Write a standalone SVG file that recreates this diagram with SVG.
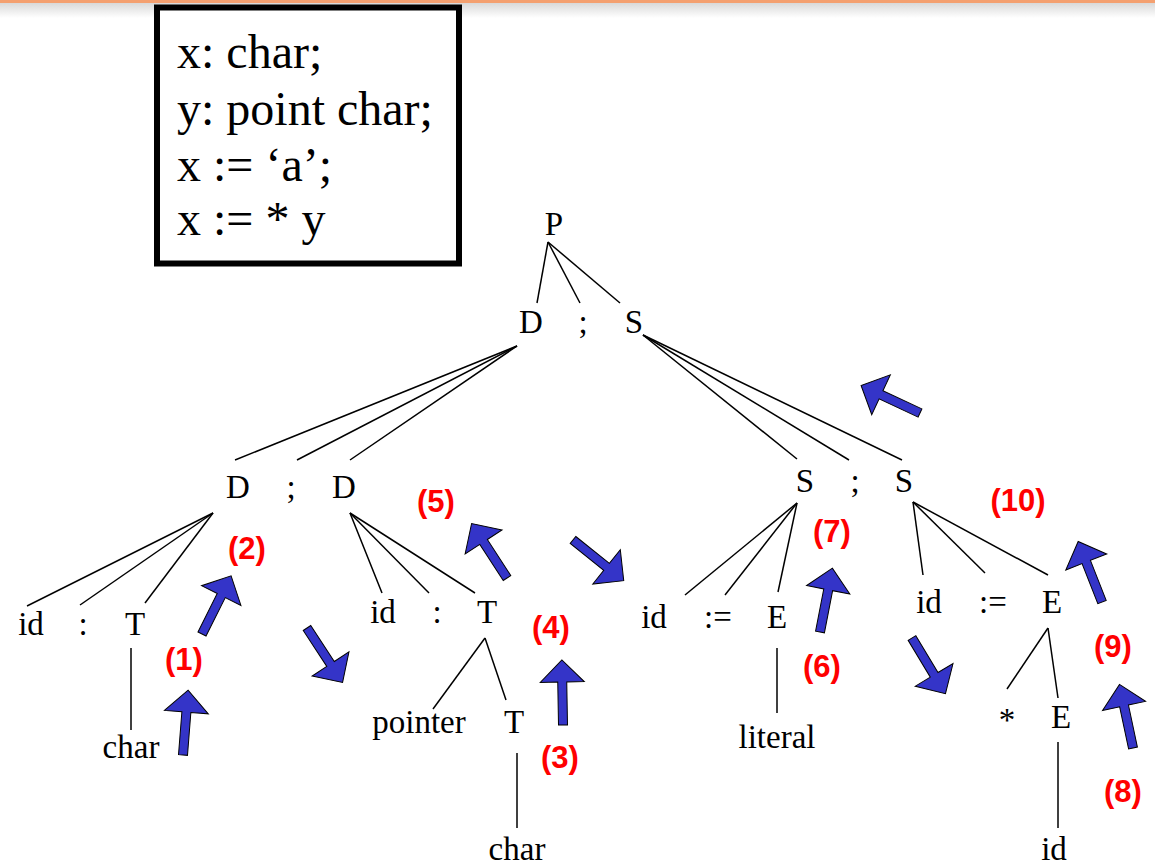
<svg xmlns="http://www.w3.org/2000/svg" xmlns:xlink="http://www.w3.org/1999/xlink" width="1155" height="867" viewBox="0 0 1155 867">
<style>
.t{font-family:"Liberation Serif","Times New Roman",serif;font-size:33px;fill:#000;text-anchor:middle}
.code{font-family:"Liberation Serif","Times New Roman",serif;font-size:48px;fill:#000}
.lbl{font-family:"Liberation Sans",Arial,sans-serif;font-size:31px;font-weight:bold;fill:#f00;text-anchor:middle}
.e{stroke:#000;stroke-width:1.5;fill:none}
.arr{fill:#3434c8;stroke:#000;stroke-width:1}
</style>
<defs>
<linearGradient id="shade" x1="0" y1="0" x2="0" y2="1">
<stop offset="0" stop-color="#d9d9d9"/>
<stop offset="1" stop-color="#ffffff"/>
</linearGradient>
<polygon id="arrow" class="arr" points="0,-4.5 43,-4.5 43,-22 65,0 43,22 43,4.5 0,4.5"/>
</defs>
<rect x="0" y="0" width="1155" height="867" fill="#fff"/>
<rect x="0" y="3" width="1155" height="15" fill="url(#shade)"/>
<rect x="0" y="0" width="1155" height="3" fill="#f4a070"/>

<g id="code-box">
<rect x="157" y="7.5" width="302" height="256" fill="#fff" stroke="#000" stroke-width="6"/>
<text class="code" x="177" y="68">x: char;</text>
<text class="code" x="177" y="125">y: point char;</text>
<text class="code" x="177" y="181">x := ‘a’;</text>
<text class="code" x="177" y="235">x := * y</text>
</g>

<g id="connectors">
<line class="e" x1="548" y1="242" x2="537" y2="303"/>
<line class="e" x1="548" y1="242" x2="580" y2="303"/>
<line class="e" x1="548" y1="242" x2="620" y2="303"/>
<line class="e" x1="517" y1="346" x2="235" y2="460"/>
<line class="e" x1="517" y1="346" x2="297" y2="460"/>
<line class="e" x1="517" y1="346" x2="350" y2="460"/>
<line class="e" x1="643" y1="335" x2="797" y2="459"/>
<line class="e" x1="643" y1="335" x2="849" y2="460"/>
<line class="e" x1="643" y1="335" x2="902" y2="460"/>
<line class="e" x1="213" y1="513" x2="27" y2="606"/>
<line class="e" x1="213" y1="513" x2="80" y2="605"/>
<line class="e" x1="213" y1="513" x2="145" y2="603"/>
<line class="e" x1="131" y1="648" x2="131" y2="730"/>
<line class="e" x1="350" y1="513" x2="382" y2="593"/>
<line class="e" x1="350" y1="513" x2="429" y2="593"/>
<line class="e" x1="350" y1="513" x2="475" y2="593"/>
<line class="e" x1="485" y1="638" x2="433" y2="709"/>
<line class="e" x1="485" y1="638" x2="506" y2="700"/>
<line class="e" x1="517" y1="753" x2="517" y2="828"/>
<line class="e" x1="797" y1="503" x2="685" y2="595"/>
<line class="e" x1="797" y1="503" x2="725" y2="595"/>
<line class="e" x1="797" y1="503" x2="778" y2="592"/>
<line class="e" x1="777" y1="648" x2="777" y2="713"/>
<line class="e" x1="913" y1="502" x2="923" y2="575"/>
<line class="e" x1="913" y1="502" x2="985" y2="573"/>
<line class="e" x1="913" y1="502" x2="1048" y2="575"/>
<line class="e" x1="1048" y1="628" x2="1007" y2="689"/>
<line class="e" x1="1048" y1="628" x2="1058" y2="698"/>
<line class="e" x1="1058" y1="742" x2="1058" y2="828"/>
</g>

<g id="n-P"><text class="t" x="554" y="235">P</text></g>
<g id="n-D1"><text class="t" x="531" y="333">D</text></g>
<g id="n-semi1"><text class="t" x="583" y="333">;</text></g>
<g id="n-S1"><text class="t" x="634" y="333">S</text></g>

<g id="n-D2"><text class="t" x="238" y="498">D</text></g>
<g id="n-semi2"><text class="t" x="291" y="498">;</text></g>
<g id="n-D3"><text class="t" x="344" y="498">D</text></g>
<g id="n-S2"><text class="t" x="805" y="492">S</text></g>
<g id="n-semi3"><text class="t" x="855" y="492">;</text></g>
<g id="n-S3"><text class="t" x="904" y="492">S</text></g>

<g id="n-id1"><text class="t" x="31" y="635">id</text></g>
<g id="n-colon1"><text class="t" x="83" y="635">:</text></g>
<g id="n-T1"><text class="t" x="135" y="635">T</text></g>
<g id="n-char1"><text class="t" x="131" y="758">char</text></g>

<g id="n-id2"><text class="t" x="383" y="623">id</text></g>
<g id="n-colon2"><text class="t" x="437" y="623">:</text></g>
<g id="n-T2"><text class="t" x="487" y="623">T</text></g>
<g id="n-pointer"><text class="t" x="419" y="733">pointer</text></g>
<g id="n-T3"><text class="t" x="514" y="733">T</text></g>
<g id="n-char2"><text class="t" x="517" y="860">char</text></g>

<g id="n-id3"><text class="t" x="654" y="628">id</text></g>
<g id="n-assign1"><text class="t" x="718" y="628">:=</text></g>
<g id="n-E1"><text class="t" x="777" y="628">E</text></g>
<g id="n-literal"><text class="t" x="777" y="748">literal</text></g>

<g id="n-id4"><text class="t" x="929" y="613">id</text></g>
<g id="n-assign2"><text class="t" x="993" y="613">:=</text></g>
<g id="n-E2"><text class="t" x="1052" y="613">E</text></g>
<g id="n-star"><text class="t" x="1007" y="731">*</text></g>
<g id="n-E3"><text class="t" x="1061" y="728">E</text></g>
<g id="n-id5"><text class="t" x="1054" y="860">id</text></g>

<g id="step-arrows">
<use xlink:href="#arrow" transform="translate(183,755) rotate(-85.5)"/>
<use xlink:href="#arrow" transform="translate(202,634) rotate(-63.4)"/>
<use xlink:href="#arrow" transform="translate(307,628) rotate(56.8)"/>
<use xlink:href="#arrow" transform="translate(563,725) rotate(-91)"/>
<use xlink:href="#arrow" transform="translate(507,578) rotate(-123)"/>
<use xlink:href="#arrow" transform="translate(573,540) rotate(38.7)"/>
<use xlink:href="#arrow" transform="translate(820,632) rotate(-79)"/>
<use xlink:href="#arrow" transform="translate(912,638) rotate(59)"/>
<use xlink:href="#arrow" transform="translate(1102,602) rotate(-111.5)"/>
<use xlink:href="#arrow" transform="translate(1133,748) rotate(-102)"/>
<use xlink:href="#arrow" transform="translate(920,413) rotate(-155)"/>
</g>

<g id="step-labels">
<text class="lbl" x="184" y="670">(1)</text>
<text class="lbl" x="247" y="559">(2)</text>
<text class="lbl" x="560" y="768">(3)</text>
<text class="lbl" x="551" y="638">(4)</text>
<text class="lbl" x="436" y="512">(5)</text>
<text class="lbl" x="822" y="677">(6)</text>
<text class="lbl" x="832" y="542">(7)</text>
<text class="lbl" x="1123" y="802">(8)</text>
<text class="lbl" x="1113" y="657">(9)</text>
<text class="lbl" x="1018" y="511">(10)</text>
</g>
</svg>
